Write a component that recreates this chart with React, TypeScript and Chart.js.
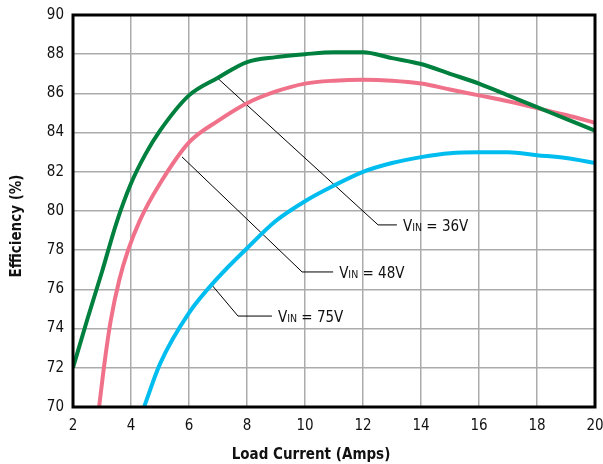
import React, { useEffect, useRef } from "react";
import { Chart, registerables } from "chart.js";

Chart.register(...registerables);

// Load current (A) and efficiency (%) per input voltage
const current36 = [2, 2.5, 3, 3.5, 4, 4.5, 5, 6, 7, 8, 9, 10, 11, 12, 13, 14, 15, 16, 17, 18, 19, 20];
const eff36 = [72, 74.5, 76.9, 79.4, 81.4, 82.9, 84.1, 85.9, 86.8, 87.6, 87.85, 88.0, 88.1, 88.1, 87.8, 87.5, 87.0, 86.5, 85.9, 85.3, 84.7, 84.1];

const current48 = [2.9, 3.1, 3.3, 3.6, 3.9, 4.3, 5, 6, 7, 8, 9, 10, 11, 12, 13, 14, 15, 16, 17, 18, 19, 20];
const eff48 = [70, 72.4, 74.4, 76.5, 78, 79.5, 81.4, 83.5, 84.6, 85.5, 86.1, 86.5, 86.65, 86.7, 86.65, 86.5, 86.2, 85.9, 85.6, 85.25, 84.9, 84.5];

const current75 = [4.45, 5, 6, 7, 8, 9, 10, 11, 12, 13, 14, 15, 16, 17, 18, 19, 20];
const eff75 = [70, 72.2, 74.8, 76.6, 78.1, 79.5, 80.5, 81.3, 82.0, 82.45, 82.75, 82.95, 83.0, 83.0, 82.85, 82.7, 82.45];

const xTicks = [2, 4, 6, 8, 10, 12, 14, 16, 18, 20];
const yTicks = [70, 72, 74, 76, 78, 80, 82, 84, 86, 88, 90];

const xTitle = "Load Current (Amps)";
const yTitle = "Efficiency (%)";

// Callout labels (data coordinates of leader lines)
const calloutVoltages = ["36V", "48V", "75V"];
const calloutStartX = [6.97, 5.76, 6.79];
const calloutStartY = [86.8, 82.76, 76.22];
const calloutElbowX = [12.52, 9.9, 7.69];
const calloutElbowY = [79.29, 76.89, 74.64];
const calloutEndX = [13.17, 10.97, 8.86];

const FONT = "'Liberation Sans Narrow', 'DejaVu Sans Condensed', 'Arial Narrow', sans-serif";

const toPoints = (xs: number[], ys: number[]) => xs.map((x, i) => ({ x, y: ys[i] }));

const decorPlugin = {
  id: "decor",
  beforeDatasetsDraw(chart: any) {
    const { ctx, scales } = chart;
    const xs = scales.x;
    const ys = scales.y;
    ctx.save();
    ctx.strokeStyle = "#000";
    ctx.lineWidth = 1;
    ctx.fillStyle = "#111";
    for (let i = 0; i < calloutVoltages.length; i++) {
      const x0 = xs.getPixelForValue(calloutStartX[i]);
      const y0 = ys.getPixelForValue(calloutStartY[i]);
      const x1 = xs.getPixelForValue(calloutElbowX[i]);
      const y1 = ys.getPixelForValue(calloutElbowY[i]);
      const x2 = xs.getPixelForValue(calloutEndX[i]);
      ctx.beginPath();
      ctx.moveTo(x0, y0);
      ctx.lineTo(x1, y1);
      ctx.lineTo(x2, y1);
      ctx.stroke();
      let tx = x2 + 6;
      const ty = y1 + 6;
      ctx.textBaseline = "alphabetic";
      ctx.textAlign = "left";
      ctx.font = `15px ${FONT}`;
      ctx.fillText("V", tx, ty);
      tx += ctx.measureText("V").width;
      ctx.font = `10.5px ${FONT}`;
      ctx.fillText("IN", tx, ty);
      tx += ctx.measureText("IN").width;
      ctx.font = `15px ${FONT}`;
      ctx.fillText(" = " + calloutVoltages[i], tx, ty);
    }
    ctx.restore();
  },
  afterDraw(chart: any) {
    const { ctx, chartArea } = chart;
    ctx.save();
    ctx.strokeStyle = "#000";
    ctx.lineWidth = 3;
    ctx.strokeRect(chartArea.left, chartArea.top, chartArea.right - chartArea.left, chartArea.bottom - chartArea.top);
    ctx.fillStyle = "#111";
    ctx.font = `bold 15px ${FONT}`;
    ctx.textAlign = "center";
    ctx.textBaseline = "middle";
    ctx.fillText(xTitle, 311, 455);
    ctx.translate(17, 226);
    ctx.rotate(-Math.PI / 2);
    ctx.fillText(yTitle, 0, 0);
    ctx.restore();
  },
};

export default function App() {
  const ref = useRef<HTMLCanvasElement | null>(null);
  useEffect(() => {
    document.body.style.margin = "0";
    if (!ref.current) return;
    const common = {
      fill: false,
      pointRadius: 0,
      borderWidth: 4,
      cubicInterpolationMode: "monotone" as const,
    };
    const chart = new Chart(ref.current, {
      type: "line",
      data: {
        datasets: [
          { ...common, label: "VIN = 36V", data: toPoints(current36, eff36), borderColor: "#00803e" },
          { ...common, label: "VIN = 48V", data: toPoints(current48, eff48), borderColor: "#f0728a" },
          { ...common, label: "VIN = 75V", data: toPoints(current75, eff75), borderColor: "#00bdf0" },
        ],
      },
      options: {
        animation: false,
        responsive: false,
        layout: { padding: { top: 15, right: 8, left: 0, bottom: 0 } },
        plugins: { legend: { display: false }, tooltip: { enabled: false }, title: { display: false } },
        scales: {
          x: {
            type: "linear",
            min: 2,
            max: 20,
            afterBuildTicks: (s: any) => {
              s.ticks = xTicks.map((v) => ({ value: v }));
            },
            afterFit: (s: any) => {
              s.height = 57;
              s.paddingLeft = 0;
              s.paddingRight = 0;
            },
            grid: { color: "#ababab", lineWidth: 1.5, drawTicks: false },
            border: { display: false },
            ticks: { color: "#111", font: { family: FONT, size: 15 }, padding: 10, maxRotation: 0 },
          },
          y: {
            type: "linear",
            min: 70,
            max: 90,
            afterBuildTicks: (s: any) => {
              s.ticks = yTicks.map((v) => ({ value: v }));
            },
            afterFit: (s: any) => {
              s.width = 73;
              s.paddingTop = 0;
              s.paddingBottom = 0;
            },
            grid: { color: "#ababab", lineWidth: 1.5, drawTicks: false },
            border: { display: false },
            ticks: { color: "#111", font: { family: FONT, size: 15 }, padding: 9 },
          },
        },
      },
      plugins: [decorPlugin],
    });
    return () => chart.destroy();
  }, []);
  return (
    <div style={{ position: "absolute", left: 0, top: 0, width: 603, height: 464 }}>
      <canvas ref={ref} width={603} height={464} style={{ width: 603, height: 464 }} />
    </div>
  );
}
